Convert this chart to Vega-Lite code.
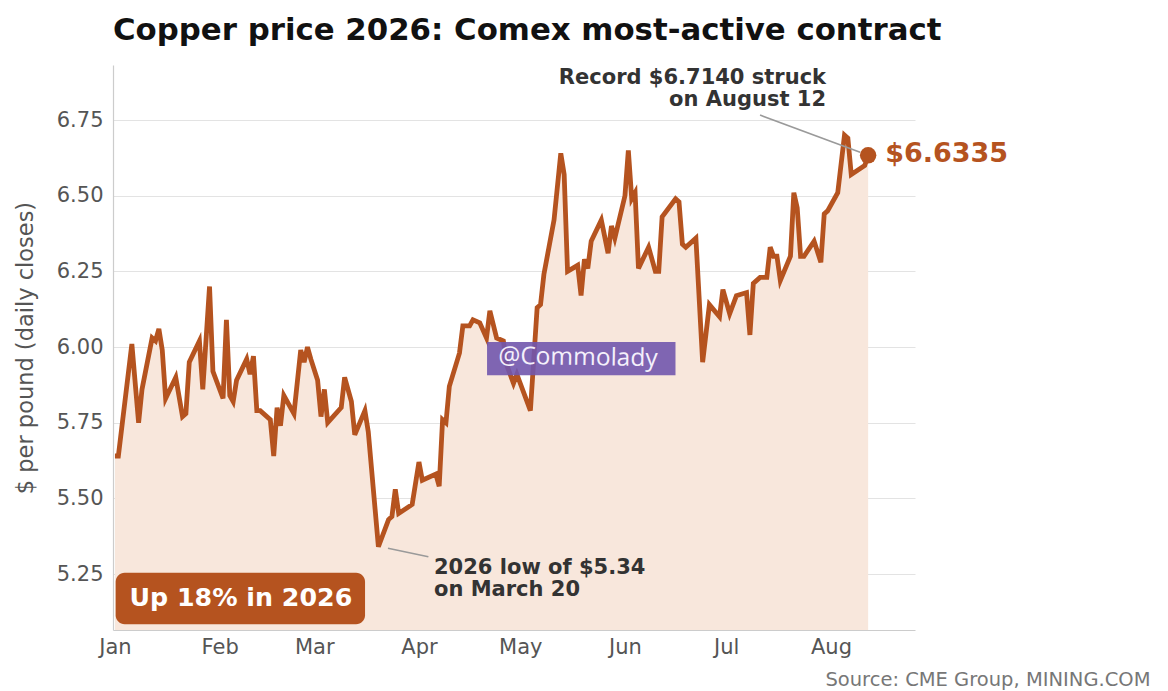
{
  "$schema": "https://vega.github.io/schema/vega-lite/v6.json",
  "width": 802,
  "height": 565,
  "autosize": "none",
  "padding": {"left": 113, "top": 65, "right": 253, "bottom": 61},
  "background": "white",
  "config": {"view": {"stroke": null}, "font": "DejaVu Sans"},
  "title": {
    "text": "Copper price 2026: Comex most-active contract",
    "anchor": "start",
    "frame": "group",
    "font": "DejaVu Sans",
    "fontSize": 30.8,
    "fontWeight": "bold",
    "color": "#111111",
    "offset": 18
  },
  "datasets": {
    "prices": [
      {"date": "2026-01-01", "value": 5.64},
      {"date": "2026-01-02", "value": 5.64},
      {"date": "2026-01-06", "value": 6.01},
      {"date": "2026-01-08", "value": 5.75},
      {"date": "2026-01-09", "value": 5.86},
      {"date": "2026-01-12", "value": 6.03},
      {"date": "2026-01-13", "value": 6.02},
      {"date": "2026-01-14", "value": 6.06},
      {"date": "2026-01-15", "value": 5.99},
      {"date": "2026-01-16", "value": 5.83},
      {"date": "2026-01-19", "value": 5.90},
      {"date": "2026-01-21", "value": 5.77},
      {"date": "2026-01-22", "value": 5.78},
      {"date": "2026-01-23", "value": 5.95},
      {"date": "2026-01-26", "value": 6.02},
      {"date": "2026-01-27", "value": 5.86},
      {"date": "2026-01-29", "value": 6.20},
      {"date": "2026-01-30", "value": 5.92},
      {"date": "2026-02-02", "value": 5.83},
      {"date": "2026-02-03", "value": 6.09},
      {"date": "2026-02-04", "value": 5.84},
      {"date": "2026-02-05", "value": 5.82},
      {"date": "2026-02-06", "value": 5.89},
      {"date": "2026-02-09", "value": 5.96},
      {"date": "2026-02-10", "value": 5.91},
      {"date": "2026-02-11", "value": 5.97},
      {"date": "2026-02-12", "value": 5.79},
      {"date": "2026-02-13", "value": 5.79},
      {"date": "2026-02-16", "value": 5.76},
      {"date": "2026-02-17", "value": 5.64},
      {"date": "2026-02-18", "value": 5.80},
      {"date": "2026-02-19", "value": 5.74},
      {"date": "2026-02-20", "value": 5.84},
      {"date": "2026-02-23", "value": 5.78},
      {"date": "2026-02-25", "value": 5.99},
      {"date": "2026-02-26", "value": 5.95},
      {"date": "2026-02-27", "value": 6.00},
      {"date": "2026-02-28", "value": 5.96},
      {"date": "2026-03-02", "value": 5.89},
      {"date": "2026-03-03", "value": 5.77},
      {"date": "2026-03-04", "value": 5.86},
      {"date": "2026-03-05", "value": 5.75},
      {"date": "2026-03-09", "value": 5.80},
      {"date": "2026-03-10", "value": 5.90},
      {"date": "2026-03-12", "value": 5.82},
      {"date": "2026-03-13", "value": 5.71},
      {"date": "2026-03-16", "value": 5.79},
      {"date": "2026-03-17", "value": 5.72},
      {"date": "2026-03-20", "value": 5.34},
      {"date": "2026-03-23", "value": 5.43},
      {"date": "2026-03-24", "value": 5.44},
      {"date": "2026-03-25", "value": 5.53},
      {"date": "2026-03-26", "value": 5.45},
      {"date": "2026-03-30", "value": 5.48},
      {"date": "2026-04-01", "value": 5.62},
      {"date": "2026-04-02", "value": 5.56},
      {"date": "2026-04-06", "value": 5.58},
      {"date": "2026-04-07", "value": 5.54},
      {"date": "2026-04-08", "value": 5.76},
      {"date": "2026-04-09", "value": 5.75},
      {"date": "2026-04-10", "value": 5.87},
      {"date": "2026-04-13", "value": 5.98},
      {"date": "2026-04-14", "value": 6.07},
      {"date": "2026-04-16", "value": 6.07},
      {"date": "2026-04-17", "value": 6.09},
      {"date": "2026-04-19", "value": 6.08},
      {"date": "2026-04-21", "value": 6.03},
      {"date": "2026-04-22", "value": 6.12},
      {"date": "2026-04-24", "value": 6.03},
      {"date": "2026-04-26", "value": 6.02},
      {"date": "2026-04-27", "value": 5.94},
      {"date": "2026-04-29", "value": 5.88},
      {"date": "2026-04-30", "value": 5.91},
      {"date": "2026-05-04", "value": 5.79},
      {"date": "2026-05-06", "value": 6.13},
      {"date": "2026-05-07", "value": 6.14},
      {"date": "2026-05-08", "value": 6.24},
      {"date": "2026-05-11", "value": 6.42},
      {"date": "2026-05-13", "value": 6.64},
      {"date": "2026-05-14", "value": 6.57},
      {"date": "2026-05-15", "value": 6.25},
      {"date": "2026-05-18", "value": 6.27},
      {"date": "2026-05-19", "value": 6.17},
      {"date": "2026-05-20", "value": 6.29},
      {"date": "2026-05-21", "value": 6.26},
      {"date": "2026-05-22", "value": 6.35},
      {"date": "2026-05-25", "value": 6.42},
      {"date": "2026-05-27", "value": 6.31},
      {"date": "2026-05-28", "value": 6.40},
      {"date": "2026-05-29", "value": 6.36},
      {"date": "2026-06-01", "value": 6.50},
      {"date": "2026-06-02", "value": 6.65},
      {"date": "2026-06-03", "value": 6.49},
      {"date": "2026-06-04", "value": 6.51},
      {"date": "2026-06-05", "value": 6.26},
      {"date": "2026-06-08", "value": 6.33},
      {"date": "2026-06-10", "value": 6.25},
      {"date": "2026-06-11", "value": 6.25},
      {"date": "2026-06-12", "value": 6.43},
      {"date": "2026-06-16", "value": 6.49},
      {"date": "2026-06-17", "value": 6.48},
      {"date": "2026-06-18", "value": 6.34},
      {"date": "2026-06-19", "value": 6.33},
      {"date": "2026-06-22", "value": 6.36},
      {"date": "2026-06-24", "value": 5.95},
      {"date": "2026-06-26", "value": 6.14},
      {"date": "2026-06-29", "value": 6.10},
      {"date": "2026-06-30", "value": 6.19},
      {"date": "2026-07-02", "value": 6.11},
      {"date": "2026-07-04", "value": 6.17},
      {"date": "2026-07-07", "value": 6.18},
      {"date": "2026-07-08", "value": 6.04},
      {"date": "2026-07-09", "value": 6.21},
      {"date": "2026-07-11", "value": 6.23},
      {"date": "2026-07-13", "value": 6.23},
      {"date": "2026-07-14", "value": 6.33},
      {"date": "2026-07-15", "value": 6.30},
      {"date": "2026-07-16", "value": 6.30},
      {"date": "2026-07-17", "value": 6.22},
      {"date": "2026-07-20", "value": 6.30},
      {"date": "2026-07-21", "value": 6.51},
      {"date": "2026-07-22", "value": 6.46},
      {"date": "2026-07-23", "value": 6.30},
      {"date": "2026-07-24", "value": 6.30},
      {"date": "2026-07-27", "value": 6.35},
      {"date": "2026-07-29", "value": 6.28},
      {"date": "2026-07-30", "value": 6.44},
      {"date": "2026-07-31", "value": 6.45},
      {"date": "2026-08-03", "value": 6.51},
      {"date": "2026-08-05", "value": 6.70},
      {"date": "2026-08-06", "value": 6.69},
      {"date": "2026-08-07", "value": 6.57},
      {"date": "2026-08-11", "value": 6.60},
      {"date": "2026-08-12", "value": 6.6335}
    ],
    "latest": [
      {"date": "2026-08-12", "value": 6.6335, "label": "$6.6335"}
    ],
    "leaders": [
      {"date": "2026-07-11T00:00:00Z", "value": 6.7665, "date2": "2026-08-09T15:00:00Z", "value2": 6.644},
      {"date": "2026-03-22T20:00:00Z", "value": 5.335, "date2": "2026-04-03T19:00:00Z", "value2": 5.307}
    ],
    "notes": [
      {"group": "record", "date": "2026-07-30T13:00:00Z", "value": 6.869, "label": "Record $6.7140 struck"},
      {"group": "record", "date": "2026-07-30T13:00:00Z", "value": 6.796, "label": "on August 12"},
      {"group": "low", "date": "2026-04-05T11:00:00Z", "value": 5.25, "label": "2026 low of $5.34"},
      {"group": "low", "date": "2026-04-05T11:00:00Z", "value": 5.177, "label": "on March 20"}
    ],
    "badge": [
      {"date": "2026-01-01T05:00:00Z", "date2": "2026-03-16T01:00:00Z", "value": 5.254, "value2": 5.084, "mid": "2026-02-07T07:00:00Z", "midValue": 5.170, "label": "Up 18% in 2026"}
    ],
    "watermark": [
      {"date": "2026-04-21T04:00:00Z", "date2": "2026-06-15T23:00:00Z", "value": 6.017, "value2": 5.907, "mid": "2026-05-18T02:00:00Z", "midValue": 5.964, "label": "@Commolady"}
    ]
  },
  "encoding": {
    "x": {
      "field": "date",
      "type": "temporal",
      "scale": {
        "type": "utc",
        "domain": [
          {"year": 2025, "month": 12, "date": 31, "hours": 10, "utc": true},
          {"year": 2026, "month": 8, "date": 25, "hours": 21, "utc": true}
        ]
      },
      "axis": {
        "format": "%b",
        "tickCount": {"interval": "month", "step": 1},
        "ticks": false,
        "grid": false,
        "domainColor": "#cccccc",
        "domainWidth": 1.2,
        "labelFontSize": 21,
        "labelColor": "#555555",
        "labelPadding": 6,
        "title": "Source: CME Group, MINING.COM",
        "titleAnchor": "end",
        "titleAlign": "right",
        "titleX": 1037,
        "titleY": 55,
        "titleBaseline": "alphabetic",
        "titleFontSize": 19.5,
        "titleFontWeight": "normal",
        "titleColor": "#777777"
      }
    },
    "y": {
      "field": "value",
      "type": "quantitative",
      "scale": {"domain": [5.065, 6.932], "zero": false, "nice": false},
      "axis": {
        "values": [5.25, 5.5, 5.75, 6, 6.25, 6.5, 6.75],
        "format": ".2f",
        "ticks": false,
        "gridColor": "#e3e3e3",
        "gridWidth": 1.2,
        "domainColor": "#cccccc",
        "domainWidth": 1.2,
        "labelFontSize": 21,
        "labelColor": "#555555",
        "labelPadding": 10,
        "title": "$ per pound (daily closes)",
        "titleFontSize": 22.5,
        "titleFontWeight": "normal",
        "titleColor": "#555555",
        "titlePadding": 19
      }
    }
  },
  "layer": [
    {
      "data": {"name": "prices"},
      "mark": {"type": "area", "color": "#f8e7dc"},
      "encoding": {"y2": {"datum": 5.065}}
    },
    {
      "data": {"name": "prices"},
      "mark": {"type": "line", "color": "#b5531f", "strokeWidth": 4.8}
    },
    {
      "data": {"name": "leaders"},
      "mark": {"type": "rule", "color": "#9a9a9a", "strokeWidth": 1.6},
      "encoding": {
        "x2": {"field": "date2"},
        "y2": {"field": "value2"}
      }
    },
    {
      "data": {"name": "latest"},
      "mark": {"type": "circle", "color": "#b5531f", "opacity": 1, "size": 270}
    },
    {
      "data": {"name": "latest"},
      "mark": {"type": "text", "color": "#b5531f", "fontSize": 27, "fontWeight": "bold", "align": "left", "baseline": "middle", "dx": 17, "dy": -1},
      "encoding": {"text": {"field": "label"}}
    },
    {
      "data": {"name": "notes"},
      "transform": [{"filter": "datum.group == 'record'"}],
      "mark": {"type": "text", "color": "#333333", "fontSize": 21, "fontWeight": "bold", "align": "right", "baseline": "alphabetic"},
      "encoding": {"text": {"field": "label"}}
    },
    {
      "data": {"name": "notes"},
      "transform": [{"filter": "datum.group == 'low'"}],
      "mark": {"type": "text", "color": "#333333", "fontSize": 21, "fontWeight": "bold", "align": "left", "baseline": "alphabetic"},
      "encoding": {"text": {"field": "label"}}
    },
    {
      "data": {"name": "badge"},
      "mark": {"type": "rect", "color": "#b5531f", "cornerRadius": 9},
      "encoding": {
        "x2": {"field": "date2"},
        "y2": {"field": "value2"}
      }
    },
    {
      "data": {"name": "badge"},
      "mark": {"type": "text", "color": "#ffffff", "fontSize": 25.3, "fontWeight": "bold", "align": "center", "baseline": "middle"},
      "encoding": {
        "x": {"field": "mid", "type": "temporal"},
        "y": {"field": "midValue", "type": "quantitative"},
        "text": {"field": "label"}
      }
    },
    {
      "data": {"name": "watermark"},
      "mark": {"type": "rect", "color": "#7157ad", "opacity": 0.9},
      "encoding": {
        "x2": {"field": "date2"},
        "y2": {"field": "value2"}
      }
    },
    {
      "data": {"name": "watermark"},
      "mark": {"type": "text", "color": "#f4f0fb", "font": "Open Sans", "fontSize": 24.5, "align": "center", "baseline": "middle", "angle": 1},
      "encoding": {
        "x": {"field": "mid", "type": "temporal"},
        "y": {"field": "midValue", "type": "quantitative"},
        "text": {"field": "label"}
      }
    }
  ]
}
